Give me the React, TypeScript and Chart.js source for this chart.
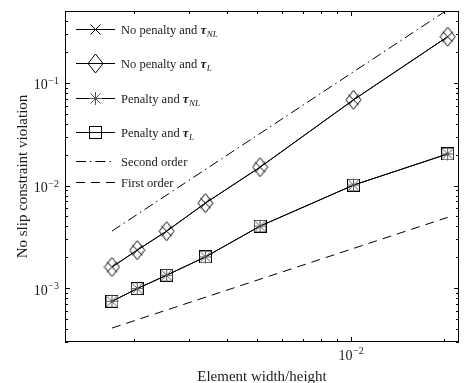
import React, { useEffect, useRef } from 'react';
import { Chart, registerables } from 'chart.js';

Chart.register(...registerables);

// ---- data ----
const elementSize = [1.7e-3, 2.05e-3, 2.55e-3, 3.4e-3, 5.1e-3, 1.02e-2, 2.05e-2];
const noPenaltyTauNL = [1.61e-3, 2.35e-3, 3.6e-3, 6.75e-3, 1.51e-2, 6.83e-2, 0.281];
const noPenaltyTauL = [1.61e-3, 2.35e-3, 3.6e-3, 6.75e-3, 1.51e-2, 6.83e-2, 0.281];
const penaltyTauNL = [7.47e-4, 9.93e-4, 1.34e-3, 2.02e-3, 4.03e-3, 1.01e-2, 2.03e-2];
const penaltyTauL = [7.47e-4, 9.93e-4, 1.34e-3, 2.02e-3, 4.03e-3, 1.01e-2, 2.03e-2];
const secondOrderX = [1.7e-3, 2.0e-2];
const secondOrderY = [3.6e-3, 0.49];
const firstOrderX = [1.7e-3, 2.05e-2];
const firstOrderY = [4.1e-4, 4.9e-3];

const xRange = [1.2e-3, 2.23e-2];
const yRange = [3e-4, 0.5];
const xMajorTicks = [1e-2];
const xMajorLabels = ['\u22122'];
const yMajorTicks = [1e-1, 1e-2, 1e-3];
const yMajorLabels = ['\u22121', '\u22122', '\u22123'];

const xTitle = 'Element width/height';
const yTitle = 'No slip constraint violation';
const legendLabels = ['No penalty and ', 'No penalty and ', 'Penalty and ', 'Penalty and ', 'Second order', 'First order'];
const legendSubscripts = ['NL', 'L', 'NL', 'L', '', ''];

const SERIF = '"Liberation Serif", "DejaVu Serif", serif';

function makeMarker(w: number, h: number, draw: (c: CanvasRenderingContext2D) => void) {
  const c = document.createElement('canvas');
  c.width = w;
  c.height = h;
  const ctx = c.getContext('2d')!;
  ctx.lineWidth = 1;
  ctx.strokeStyle = '#000';
  draw(ctx);
  return c;
}

function pts(xs: number[], ys: number[]) {
  return xs.map((x, i) => ({ x, y: ys[i] }));
}

export default function App() {
  const ref = useRef<HTMLCanvasElement>(null);

  useEffect(() => {
    const crossM = makeMarker(13, 13, (c) => {
      c.beginPath();
      c.moveTo(1.5, 1.5); c.lineTo(11.5, 11.5);
      c.moveTo(11.5, 1.5); c.lineTo(1.5, 11.5);
      c.stroke();
    });
    const diamondM = makeMarker(17, 21, (c) => {
      c.beginPath();
      c.moveTo(1, 10.5); c.lineTo(8.5, 1); c.lineTo(16, 10.5); c.lineTo(8.5, 20); c.closePath();
      c.stroke();
    });
    const starM = makeMarker(15, 15, (c) => {
      c.strokeStyle = '#555';
      c.beginPath();
      c.moveTo(7.5, 1); c.lineTo(7.5, 14);
      c.moveTo(1, 7.5); c.lineTo(14, 7.5);
      c.moveTo(2.5, 2.5); c.lineTo(12.5, 12.5);
      c.moveTo(12.5, 2.5); c.lineTo(2.5, 12.5);
      c.stroke();
    });
    const squareM = makeMarker(13, 13, (c) => {
      c.strokeRect(0.5, 0.5, 12, 12);
    });
    const markers: (HTMLCanvasElement | null)[] = [crossM, diamondM, starM, squareM, null, null];
    const dashes: number[][] = [[], [], [], [], [10, 4, 1.5, 4], [9, 6]];

    const paper = {
      id: 'paper',
      afterDraw(chart: any) {
        const ctx: CanvasRenderingContext2D = chart.ctx;
        const a = chart.chartArea;
        const xs = chart.scales.x;
        const ys = chart.scales.y;
        ctx.save();
        ctx.strokeStyle = '#000';
        ctx.fillStyle = '#1a1a1a';
        ctx.lineWidth = 1;
        ctx.setLineDash([]);
        // frame
        ctx.strokeRect(a.left + 0.5, a.top + 0.5, a.right - a.left - 1, a.bottom - a.top - 1);
        // ticks
        const tickSet = (scale: any, isX: boolean) => {
          const lo = Math.floor(Math.log10(scale.min));
          const hi = Math.ceil(Math.log10(scale.max));
          ctx.beginPath();
          for (let d = lo; d <= hi; d++) {
            for (let k = 1; k <= 9; k++) {
              const v = k * Math.pow(10, d);
              if (v < scale.min * 0.9999 || v > scale.max * 1.0001) continue;
              const p = Math.round(scale.getPixelForValue(v)) + 0.5;
              const len = k === 1 ? 5 : 3;
              if (isX) {
                ctx.moveTo(p, a.bottom); ctx.lineTo(p, a.bottom - len);
                ctx.moveTo(p, a.top); ctx.lineTo(p, a.top + len);
              } else {
                ctx.moveTo(a.left, p); ctx.lineTo(a.left + len, p);
                ctx.moveTo(a.right, p); ctx.lineTo(a.right - len, p);
              }
            }
          }
          ctx.stroke();
        };
        tickSet(xs, true);
        tickSet(ys, false);

        // tick labels
        const baseFont = '14px ' + SERIF;
        const supFont = '10px ' + SERIF;
        ctx.textBaseline = 'alphabetic';
        ctx.textAlign = 'left';
        xMajorTicks.forEach((v, i) => {
          const p = xs.getPixelForValue(v);
          ctx.font = baseFont;
          const w1 = ctx.measureText('10').width;
          ctx.font = supFont;
          const w2 = ctx.measureText(xMajorLabels[i]).width;
          const x0 = p - (w1 + w2) / 2;
          ctx.font = baseFont;
          ctx.fillText('10', x0, 360);
          ctx.font = supFont;
          ctx.fillText(xMajorLabels[i], x0 + w1 + 0.5, 354);
        });
        yMajorTicks.forEach((v, i) => {
          const p = ys.getPixelForValue(v);
          ctx.font = supFont;
          const w2 = ctx.measureText(yMajorLabels[i]).width;
          ctx.font = baseFont;
          const w1 = ctx.measureText('10').width;
          const xr = a.left - 6;
          const x0 = xr - w1 - w2 - 0.5;
          ctx.fillText('10', x0, p + 6.5);
          ctx.font = supFont;
          ctx.fillText(yMajorLabels[i], x0 + w1 + 0.5, p + 1);
        });

        // axis titles
        ctx.font = '15px ' + SERIF;
        ctx.textAlign = 'center';
        ctx.fillText(xTitle, (a.left + a.right) / 2, 381);
        ctx.save();
        ctx.translate(27, (a.top + a.bottom) / 2);
        ctx.rotate(-Math.PI / 2);
        ctx.fillText(yTitle, 0, 0);
        ctx.restore();

        // legend
        const ly = [29, 63, 98, 132, 161, 182];
        ctx.textAlign = 'left';
        legendLabels.forEach((lab, i) => {
          const y = ly[i] + 0.5;
          ctx.beginPath();
          ctx.setLineDash(dashes[i]);
          ctx.moveTo(76, y);
          ctx.lineTo(115, y);
          ctx.stroke();
          ctx.setLineDash([]);
          const m = markers[i];
          if (m) {
            ctx.drawImage(m, Math.round(95.5 - m.width / 2), Math.round(y - m.height / 2));
          }
          let x = 121;
          const by = ly[i] + 4.5;
          ctx.font = '12.5px ' + SERIF;
          ctx.fillText(lab, x, by);
          x += ctx.measureText(lab).width;
          if (legendSubscripts[i]) {
            ctx.font = 'italic bold 13px ' + SERIF;
            ctx.fillText('\u03c4', x, by);
            x += ctx.measureText('\u03c4').width + 0.5;
            ctx.font = 'italic 9px ' + SERIF;
            ctx.fillText(legendSubscripts[i], x, by + 3);
          }
        });
        ctx.restore();
      },
    };

    const line = (data: any, style: any, extra: any = {}) => ({
      data,
      showLine: true,
      borderColor: '#000',
      backgroundColor: 'rgba(0,0,0,0)',
      borderWidth: 1,
      pointStyle: style,
      pointRadius: style ? 5 : 0,
      pointBorderColor: '#000',
      ...extra,
    });

    const chart = new Chart(ref.current!, {
      type: 'scatter',
      data: {
        datasets: [
          line(pts(elementSize, noPenaltyTauNL), crossM, { label: 'No penalty and tau_NL' }),
          line(pts(elementSize, noPenaltyTauL), diamondM, { label: 'No penalty and tau_L' }),
          line(pts(elementSize, penaltyTauNL), starM, { label: 'Penalty and tau_NL' }),
          line(pts(elementSize, penaltyTauL), squareM, { label: 'Penalty and tau_L' }),
          line(pts(secondOrderX, secondOrderY), false, { label: 'Second order', borderDash: [10, 4, 1.5, 4] }),
          line(pts(firstOrderX, firstOrderY), false, { label: 'First order', borderDash: [9, 6] }),
        ],
      },
      options: {
        responsive: false,
        animation: false,
        devicePixelRatio: 1,
        layout: { padding: { left: 65, right: 0, top: 11, bottom: 41 } },
        scales: {
          x: { type: 'logarithmic', min: xRange[0], max: xRange[1], display: false },
          y: { type: 'logarithmic', min: yRange[0], max: yRange[1], display: false },
        },
        plugins: { legend: { display: false }, tooltip: { enabled: false } },
      },
      plugins: [paper],
    });
    return () => chart.destroy();
  }, []);

  return (
    <canvas
      ref={ref}
      width={465}
      height={383}
      style={{ position: 'absolute', left: 0, top: 0, display: 'block' }}
    />
  );
}
